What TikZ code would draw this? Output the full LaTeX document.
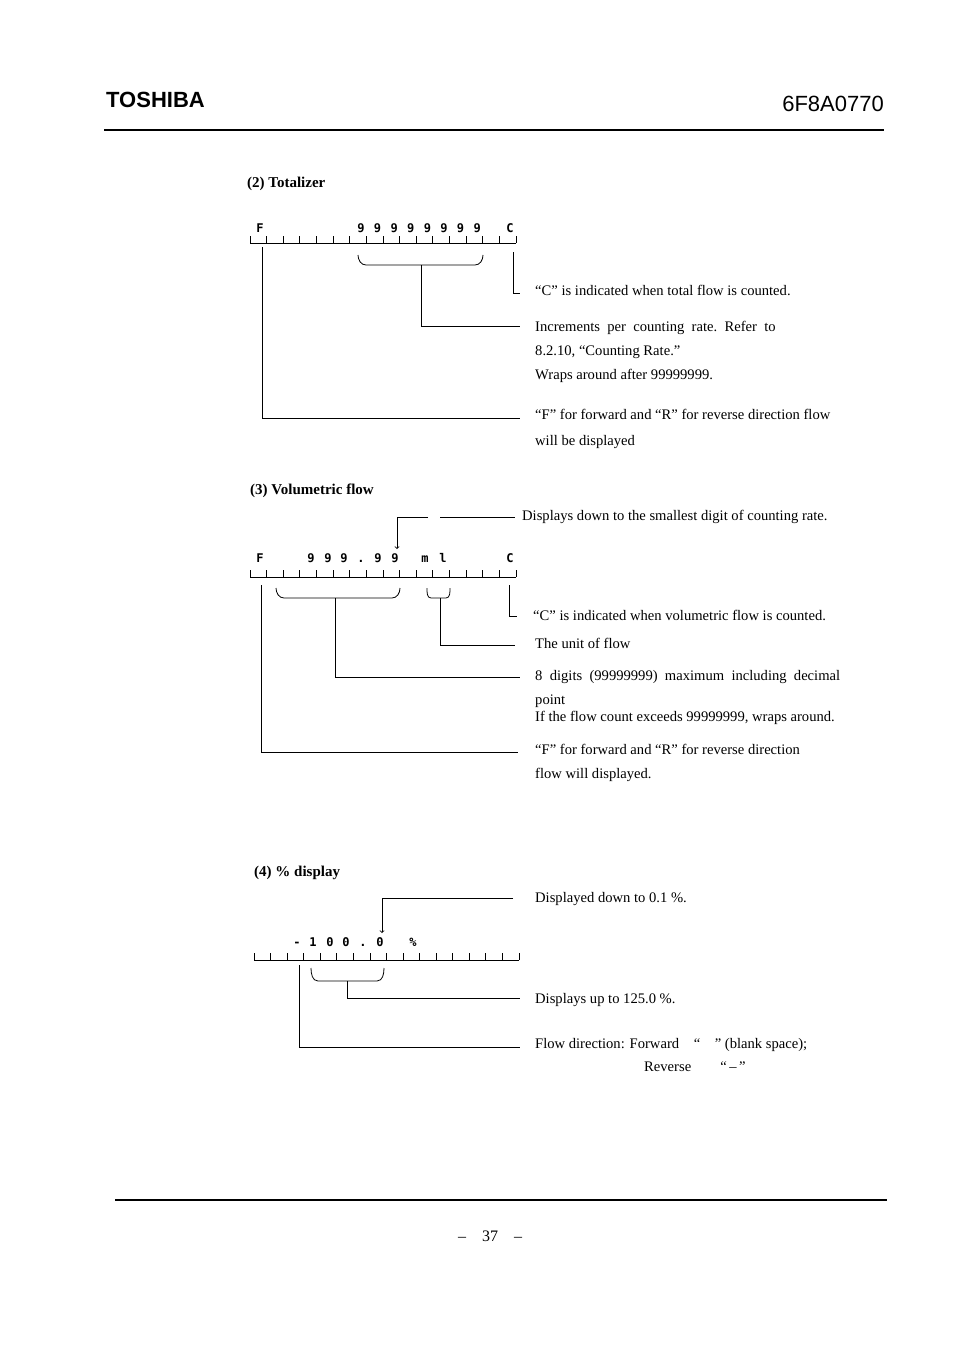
\documentclass[tikz,border=0pt]{standalone}
\usepackage{fontspec}
\setmainfont{Liberation Serif}
\newfontfamily\hdfont{Liberation Sans}
\newfontfamily\segfont{DejaVu Sans Mono}
\tikzset{
  txt/.style={anchor=base west, inner sep=0pt, font=\fontsize{14.6}{16}\selectfont},
  head/.style={anchor=base west, inner sep=0pt, font=\bfseries\fontsize{15}{17}\selectfont},
  seg/.style={anchor=base, inner sep=0pt, font=\segfont\bfseries\fontsize{12}{13}\selectfont},
  lead/.style={line width=0.8pt},
}
% a ruler of 16 cells
\newcommand{\ruler}[3]{%
  \draw[lead] (#1,#3) -- (#2,#3);
  \foreach \i in {0,...,16}
    \draw[lead] ({#1+\i*(#2-#1)/16},#3) -- ++(0,-7);
}
\begin{document}
\begin{tikzpicture}[x=1pt,y=-1pt]
\useasboundingbox (0,0) rectangle (954,1351);

% page head and foot
\node[anchor=base west, inner sep=0pt, font=\hdfont\bfseries\fontsize{22}{23}\selectfont] (brand) at (106,108) {TOSHIBA};
\node[anchor=base east, inner sep=0pt, font=\hdfont\fontsize{22}{23}\selectfont] (docno) at (884,112) {6F8A0770};
\draw[line width=2pt] (104,130) -- (884,130);
\draw[line width=2pt] (115,1200) -- (887,1200);
\node[anchor=base, font=\fontsize{16}{18}\selectfont] (page) at (490,1241) {--\quad 37\quad --};

% (2) Totalizer
\node[head] (totT) at (247,188) {(2) Totalizer};
\ruler{250}{516}{243}
\node[seg] (totF) at (260,233) {F};
\foreach \k in {0,...,7}
  \node[seg] (tot9\k) at ({361+\k*16.6},233) {9};
\node[seg] (totC) at (510,233) {C};
\draw[lead] (358,255) to[out=-90,in=180] (366,265) -- (475,265) to[out=0,in=-90] (483,255);
\coordinate (totB) at (421,265);
\draw[lead] (totB) -- (421,326) -- (520,326);
\draw[lead] (262,247) -- (262,418) -- (520,418);
\draw[lead] (513,252) -- (513,293) -- (520,293);
\node[txt] (totc1) at (535,295) {``C'' is indicated when total flow is counted.};
\node[txt] (totc2) at (535,331) {Increments\ \ per\ \ counting\ \ rate.\ \ Refer\ \ to};
\node[txt] (totc3) at (535,355) {8.2.10, ``Counting Rate.''};
\node[txt] (totc4) at (535,379) {Wraps around after 99999999.};
\node[txt] (totc5) at (535,419) {``F'' for forward and ``R'' for reverse direction flow};
\node[txt] (totc6) at (535,445) {will be displayed};

% (3) Volumetric flow
\node[head] (volT) at (250,494) {(3) Volumetric flow};
\draw[lead] (428,517) -- (397,517);
\draw[lead,->] (397,517) -- (397,549);
\draw[lead] (440,517) -- (515,517);
\node[txt] (volc0) at (522,520) {Displays down to the smallest digit of counting rate.};
\ruler{250}{516}{577}
\node[seg] (volF) at (260,562) {F};
\foreach \xx/\ch [count=\n] in {311/9,328/9,344/9,361/.,378/9,395/9,425/m,443/l}
  \node[seg] (volch\n) at (\xx,562) {\ch};
\node[seg] (volC) at (510,562) {C};
\draw[lead] (276,588) to[out=-90,in=180] (284,598) -- (392,598) to[out=0,in=-90] (400,588);
\draw[lead] (427,588) to[out=-90,in=180] (431,598) -- (446,598) to[out=0,in=-90] (450,588);
\draw[lead] (335,598) -- (335,677) -- (520,677);
\draw[lead] (440,598) -- (440,645) -- (515,645);
\draw[lead] (509,585) -- (509,616) -- (517,616);
\draw[lead] (261,585) -- (261,752) -- (518,752);
\node[txt] (volc1) at (533,620) {``C'' is indicated when volumetric flow is counted.};
\node[txt] (volc2) at (535,648) {The unit of flow};
\node[txt] (volc3) at (535,680) {8\ \ digits\ \ (99999999)\ \ maximum\ \ including\ \ decimal};
\node[txt] (volc4) at (535,704) {point};
\node[txt] (volc5) at (535,721) {If the flow count exceeds 99999999, wraps around.};
\node[txt] (volc6) at (535,754) {``F'' for forward and ``R'' for reverse direction};
\node[txt] (volc7) at (535,778) {flow will displayed.};

% (4) % display
\node[head] (pctT) at (254,876) {(4) \% display};
\draw[lead] (513,898) -- (382,898);
\draw[lead,->] (382,898) -- (382,933);
\node[txt] (pctc0) at (535,902) {Displayed down to 0.1 \%.};
\ruler{254}{519}{960}
\foreach \xx/\ch [count=\n] in {297/-,313/1,330/0,346/0,363/.,380/0,413/\%}
  \node[seg] (pctch\n) at (\xx,946) {\ch};
\draw[lead] (311,968) to[out=-90,in=180] (318,981) -- (377,981) to[out=0,in=-90] (384,968);
\draw[lead] (347,981) -- (347,998) -- (520,998);
\draw[lead] (299,965) -- (299,1047) -- (520,1047);
\node[txt] (pctc1) at (535,1003) {Displays up to 125.0 \%.};
\node[txt] (pctc2) at (535,1048) {Flow direction: Forward\quad ``\quad '' (blank space);};
\node[txt] (pctc3) at (644,1071) {Reverse\qquad ``\,--\,''};
\end{tikzpicture}
\end{document}
